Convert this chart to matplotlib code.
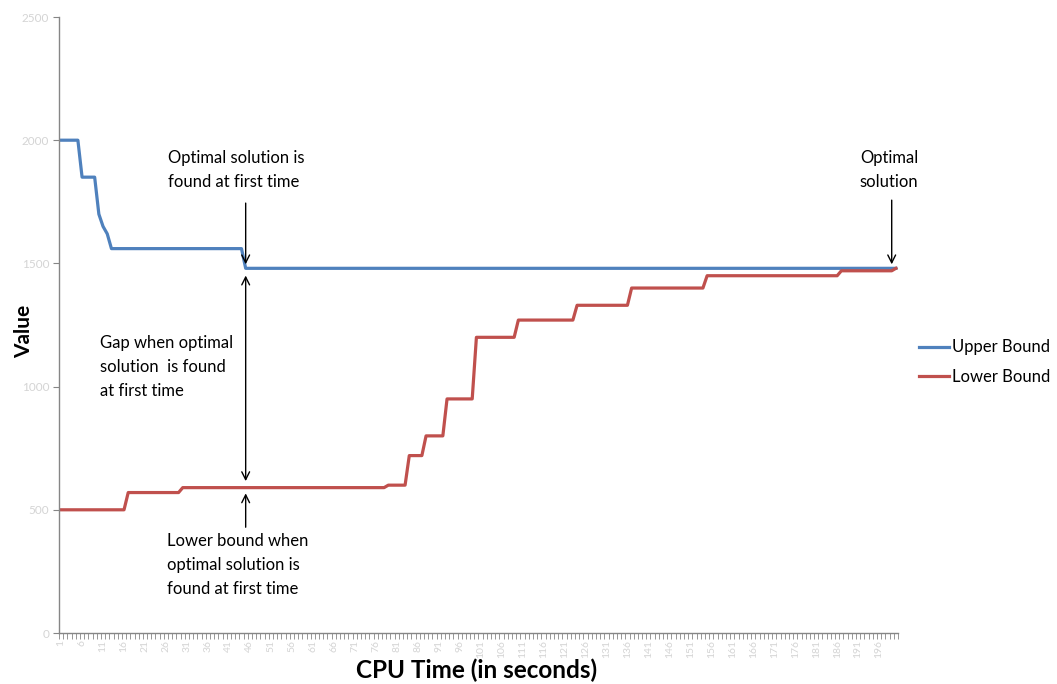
import numpy as np
import matplotlib
matplotlib.use("Agg")
import matplotlib.pyplot as plt

# ---------------------------------------------------------
# data (stored as step runs per category)
# ---------------------------------------------------------
n_cats = 200
categories = np.arange(1, n_cats + 1)

ub_levels = [2000, 1850, 1700, 1650, 1620, 1560, 1480]
ub_runs = [5, 4, 1, 1, 1, 32, 156]

lb_levels = [500, 570, 590, 600, 720, 800, 950, 1200, 1270, 1330, 1400, 1450, 1470, 1480]
lb_runs = [16, 13, 49, 5, 4, 5, 7, 10, 14, 13, 18, 32, 13, 1]

upper_bound = np.repeat(ub_levels, ub_runs)
lower_bound = np.repeat(lb_levels, lb_runs)

y_ticks = [0, 500, 1000, 1500, 2000, 2500]
x_tick_labels = list(range(1, n_cats + 1, 5))

first_opt_cat = 45
last_cat = 199

plt.rcParams['font.family'] = ['Lato', 'DejaVu Sans']

fig = plt.figure(figsize=(10.57, 6.84), dpi=100)
ax = fig.add_axes([59 / 1057, 1 - 633 / 684, 839 / 1057, 616 / 684])

ax.plot(categories, upper_bound, color="#4F81BD", lw=2.3, label="Upper Bound", solid_joinstyle="round")
ax.plot(categories, lower_bound, color="#C0504D", lw=2.3, label="Lower Bound", solid_joinstyle="round")

ax.set_xlim(0.5, n_cats + 0.5)
ax.set_ylim(0, 2500)

# axes styling (Excel look)
axis_grey = "#868686"
for s in ["top", "right"]:
    ax.spines[s].set_visible(False)
for s in ["left", "bottom"]:
    ax.spines[s].set_color(axis_grey)
    ax.spines[s].set_linewidth(1.0)

ax.set_yticks(y_ticks)
ax.set_yticklabels([str(v) for v in y_ticks])
ax.tick_params(axis="y", length=4, color=axis_grey, labelsize=8.5, labelcolor="#d4d4d4", pad=3)

ax.set_xticks(x_tick_labels)
ax.set_xticklabels([str(v) for v in x_tick_labels], rotation=90)
ax.set_xticks(np.arange(0.5, n_cats + 1, 1.0), minor=True)
ax.tick_params(axis="x", which="major", length=0, labelsize=7.5, labelcolor="#d4d4d4", pad=5)
ax.tick_params(axis="x", which="minor", length=4, color=axis_grey)

ax.set_ylabel("Value", fontsize=15, fontweight="bold")
ax.yaxis.set_label_coords(-0.030, 0.49)
ax.set_xlabel("CPU Time (in seconds)", fontsize=17.5, fontweight="bold")
ax.xaxis.set_label_coords(0.498, -0.042)

# annotations
arrow_kw = dict(arrowstyle="->", color="black", lw=1.0, mutation_scale=14)
ax.annotate("", xy=(first_opt_cat, 1485), xytext=(first_opt_cat, 1756), arrowprops=arrow_kw)
ax.annotate("", xy=(first_opt_cat, 1462), xytext=(first_opt_cat, 605),
            arrowprops=dict(arrowstyle="<->", color="black", lw=1.0, mutation_scale=14))
ax.annotate("", xy=(first_opt_cat, 578), xytext=(first_opt_cat, 418), arrowprops=arrow_kw)
ax.annotate("", xy=(last_cat, 1485), xytext=(last_cat, 1768), arrowprops=arrow_kw)

txt_kw = dict(fontsize=12, color="black", ha="left", va="top", linespacing=1.6)
ax.text(26.5, 1959, "Optimal solution is\nfound at first time", **txt_kw)
ax.text(10.3, 1208, "Gap when optimal\nsolution  is found\nat first time", **txt_kw)
ax.text(26.2, 405, "Lower bound when\noptimal solution is\nfound at first time", **txt_kw)
ax.text(191.4, 1959, "Optimal\nsolution", **txt_kw)

ax.legend(loc="center left", bbox_to_anchor=(919 / 1057, 1 - 362 / 684), bbox_transform=fig.transFigure,
          frameon=False, fontsize=12, handlelength=1.8, handletextpad=0.2, labelspacing=0.8,
          borderpad=0, borderaxespad=0)

fig.savefig("out.png", dpi=100)
